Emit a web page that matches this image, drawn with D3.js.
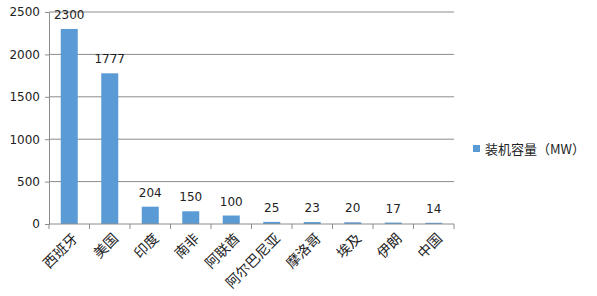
<!DOCTYPE html>
<html>
<head>
<meta charset="utf-8">
<script src="https://cdn.jsdelivr.net/npm/d3@7"></script>
<style>
  body { margin: 0; background: #fff; }
  text { font-family: "Noto Sans CJK SC", "DejaVu Sans", sans-serif; fill: #222; }
</style>
</head>
<body>
<div id="chart"></div>
<script>
// chart data
var countries = ["西班牙", "美国", "印度", "南非", "阿联酋", "阿尔巴尼亚", "摩洛哥", "埃及", "伊朗", "中国"];
var capacity = [2300, 1777, 204, 150, 100, 25, 23, 20, 17, 14];
var yTicks = [0, 500, 1000, 1500, 2000, 2500];
var seriesName = "装机容量（MW）";

function main() {
    var margin = {top: 12, right: 143, bottom: 72, left: 49},
        width = 597 - margin.left - margin.right,
        height = 296 - margin.top - margin.bottom;

    var svg = d3.select("#chart").append("svg")
        .attr("width", 597)
        .attr("height", 296);

    var g = svg.append("g")
        .attr("transform", "translate(" + margin.left + "," + margin.top + ")");

    var x = d3.scaleBand()
        .domain(countries)
        .range([0, width])
        .paddingInner(0.58)
        .paddingOuter(0.29);

    var y = d3.scaleLinear()
        .domain([0, 2500])
        .range([height, 0]);

    // gridlines
    g.selectAll(".grid")
        .data(yTicks.filter(function (d) { return d > 0; }))
        .enter()
        .append("line")
        .attr("x1", 0)
        .attr("x2", width)
        .attr("y1", function (d) { return y(d); })
        .attr("y2", function (d) { return y(d); })
        .attr("stroke", "#8c8c8c")
        .attr("stroke-width", 1);

    // y axis
    var yAxis = g.append("g")
        .call(d3.axisLeft(y).tickValues(yTicks).tickFormat(d3.format("d"))
            .tickSize(4).tickSizeOuter(0).tickPadding(5));
    yAxis.select(".domain").attr("stroke", "#8c8c8c");
    yAxis.selectAll(".tick line").attr("stroke", "#8c8c8c");
    yAxis.selectAll("text")
        .attr("font-size", "12px")
        .style("font-family", "'DejaVu Sans', sans-serif");

    // bars
    g.selectAll(".bar")
        .data(countries)
        .enter()
        .append("rect")
        .attr("x", function (d) { return x(d); })
        .attr("y", function (d, i) { return y(capacity[i]); })
        .attr("width", x.bandwidth())
        .attr("height", function (d, i) { return height - y(capacity[i]); })
        .attr("fill", "#5b9bd5");

    // value labels, just above each bar
    g.selectAll(".val")
        .data(countries)
        .enter()
        .append("text")
        .attr("x", function (d) { return x(d) + x.bandwidth() / 2; })
        .attr("y", function (d, i) { return y(capacity[i]) - 10; })
        .attr("text-anchor", "middle")
        .attr("font-size", "12px")
        .style("font-family", "'DejaVu Sans', sans-serif")
        .text(function (d, i) { return capacity[i]; });

    // x axis with ticks between categories
    var boundaries = d3.range(countries.length + 1).map(function (i) { return i * width / countries.length; });
    var xAxis = g.append("g")
        .attr("transform", "translate(0," + height + ")");
    xAxis.append("line")
        .attr("x1", 0).attr("x2", width)
        .attr("stroke", "#8c8c8c");
    xAxis.selectAll(".xt")
        .data(boundaries)
        .enter()
        .append("line")
        .attr("x1", function (d) { return d; })
        .attr("x2", function (d) { return d; })
        .attr("y1", 0)
        .attr("y2", 5)
        .attr("stroke", "#8c8c8c");

    xAxis.selectAll(".xl")
        .data(countries)
        .enter()
        .append("text")
        .attr("transform", function (d) {
            return "translate(" + (x(d) + x.bandwidth() / 2 + 6) + ",12) rotate(-45)";
        })
        .attr("text-anchor", "end")
        .attr("dy", "0.35em")
        .attr("font-size", "14px")
        .text(function (d) { return d; });

    // legend
    var legend = svg.append("g")
        .attr("transform", "translate(473,145)");
    legend.append("rect")
        .attr("width", 7)
        .attr("height", 7)
        .attr("fill", "#5b9bd5");
    legend.append("text")
        .attr("x", 12)
        .attr("y", 4)
        .attr("dy", "0.35em")
        .attr("font-size", "13px")
        .text(seriesName);
}

main()
</script>
</body>
</html>
